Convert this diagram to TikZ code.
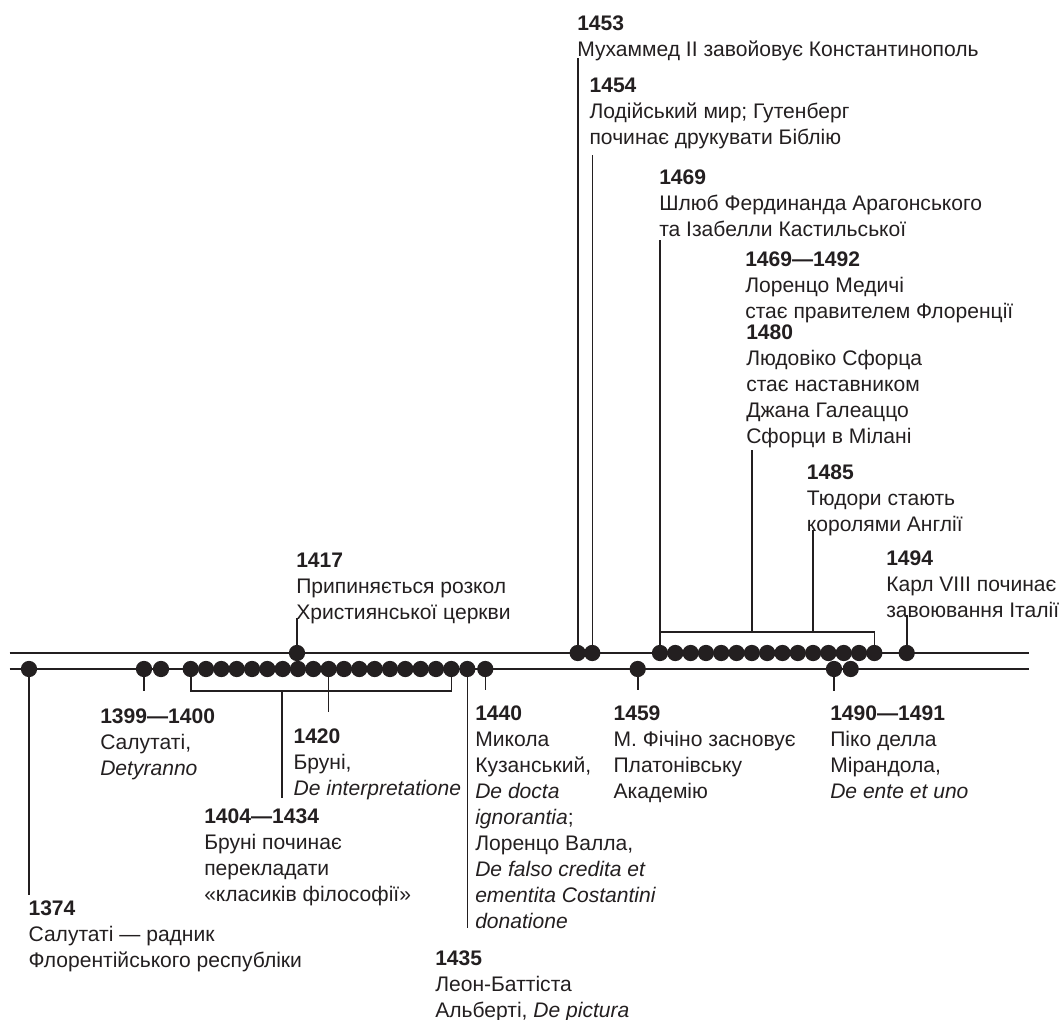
\documentclass[tikz,border=0pt]{standalone}
\usepackage{fontspec}
\setmainfont{Liberation Sans}
\definecolor{inkc}{RGB}{35,31,32}
\newcommand\evfont{\fontsize{15.8}{19.5}\selectfont}
\newcommand\yr[1]{\textbf{#1}}
\newcommand\blk[1]{\vtop{\baselineskip=19.5pt\lineskiplimit=-20pt\lineskip=0pt\let\\\cr\halign{##\hfil\cr#1\crcr}}}
\tikzset{
  ink/.style={line width=1.2pt, draw=inkc, line cap=butt},
  axis/.style={line width=1.3pt, draw=inkc},
  dot/.style={circle, fill=inkc, inner sep=0pt, minimum size=12.2pt},
  ev/.style={anchor=base west, inner sep=0pt, font=\evfont, text=inkc},
}
\begin{document}
\begin{tikzpicture}[x=0.75pt,y=-0.75pt]
\useasboundingbox (0,0) rectangle (1060,1020);
% axes
\coordinate (topL) at (9.5,653);  \coordinate (topR) at (1029.3,653);
\coordinate (botL) at (9.5,669);  \coordinate (botR) at (1029.3,669);
\draw[axis] (topL) -- (topR);
\draw[axis] (botL) -- (botR);

% ---- lower line dots
\node[dot] (d1374) at (29,669) {};
\node[dot] (d1399) at (144,669) {};
\node[dot] (d1400) at (161,669) {};
\foreach \i in {0,...,17} \node[dot] (lg\i) at ({190.7+15.33*\i},669) {};
\node[dot] (d1435) at (467.3,669) {};
\node[dot] (d1440) at (485.3,669) {};
\node[dot] (d1459) at (637.7,669) {};
\node[dot] (d1490) at (834,669) {};
\node[dot] (d1491) at (850.7,669) {};

% ---- upper line dots
\node[dot] (d1417) at (297,653) {};
\node[dot] (d1453) at (577.7,653) {};
\node[dot] (d1454) at (592.3,653) {};
\foreach \i in {0,...,14} \node[dot] (tg\i) at ({660+15.31*\i},653) {};
\node[dot] (d1494) at (906.7,653) {};

% ---- lower stems
\draw[ink] (d1374.south) -- (d1374 |- 0,895);
\draw[ink] (d1399.south) -- (d1399 |- 0,691);
\draw[ink] (lg0.south) -- (lg0 |- 0,691) -| (lg17.south);
\coordinate (b1404) at (281.7,691);
\draw[ink] (b1404) -- (b1404 |- 0,798);
\draw[ink] (lg9.south) -- (lg9 |- 0,712);
\draw[ink] (d1435.south) -- (d1435 |- 0,928);
\draw[ink] (d1440.south) -- (d1440 |- 0,690);
\draw[ink] (d1459.south) -- (d1459 |- 0,690);
\draw[ink] (d1490.south) -- (d1490 |- 0,691);

% ---- upper stems
\draw[ink] (d1417.north) -- (d1417 |- 0,618);
\draw[ink] (d1453.north) -- (d1453 |- 0,58);
\draw[ink] (d1454.north) -- (d1454 |- 0,155);
\draw[ink] (tg0.north) -- (tg0 |- 0,632) -| (tg14.north);
\draw[ink] (tg0 |- 0,632) -- (tg0 |- 0,240);
\draw[ink] (tg6 |- 0,632) -- (tg6 |- 0,450);
\draw[ink] (tg10 |- 0,632) -- (tg10 |- 0,530);
\draw[ink] (d1494.north) -- (d1494 |- 0,615);

% ---- upper labels
\node[ev] (t1453) at (577,31) {\blk{\yr{1453}\\Мухаммед II завойовує Константинополь}};
\node[ev] (t1454) at (589.3,93) {\blk{\yr{1454}\\Лодійський мир; Гутенберг\\починає друкувати Біблію}};
\node[ev] (t1469) at (659,185) {\blk{\yr{1469}\\Шлюб Фердинанда Арагонського\\та Ізабелли Кастильської}};
\node[ev] (t1469b) at (745,266) {\blk{\yr{1469—1492}\\Лоренцо Медичі\\стає правителем Флоренції}};
\node[ev] (t1480) at (746,339) {\blk{\yr{1480}\\Людовіко Сфорца\\стає наставником\\Джана Галеаццо\\Сфорци в Мілані}};
\node[ev] (t1485) at (806.7,479) {\blk{\yr{1485}\\Тюдори стають\\королями Англії}};
\node[ev] (t1494) at (886,565) {\blk{\yr{1494}\\Карл VIII починає\\завоювання Італії}};
\node[ev] (t1417) at (296,567) {\blk{\yr{1417}\\Припиняється розкол\\Християнської церкви}};

% ---- lower labels
\node[ev] (t1399) at (100,723) {\blk{\yr{1399—1400}\\Салутаті,\\\textit{Detyranno}}};
\node[ev] (t1420) at (293.3,743) {\blk{\yr{1420}\\Бруні,\\\textit{De interpretatione}}};
\node[ev] (t1404) at (204,823) {\blk{\yr{1404—1434}\\Бруні починає\\перекладати\\«класиків філософії»}};
\node[ev] (t1374) at (28.3,915) {\blk{\yr{1374}\\Салутаті — радник\\Флорентійського республіки}};
\node[ev] (t1440) at (475,720) {\blk{\yr{1440}\\Микола\\Кузанський,\\\textit{De docta}\\\textit{ignorantia};\\Лоренцо Валла,\\\textit{De falso credita et}\\\textit{ementita Costantini}\\\textit{donatione}}};
\node[ev] (t1435) at (435,965) {\blk{\yr{1435}\\Леон-Баттіста\\Альберті, \textit{De pictura}}};
\node[ev] (t1459) at (613.3,720) {\blk{\yr{1459}\\М. Фічіно засновує\\Платонівську\\Академію}};
\node[ev] (t1490) at (830,720) {\blk{\yr{1490—1491}\\Піко делла\\Мірандола,\\\textit{De ente et uno}}};
\end{tikzpicture}
\end{document}
